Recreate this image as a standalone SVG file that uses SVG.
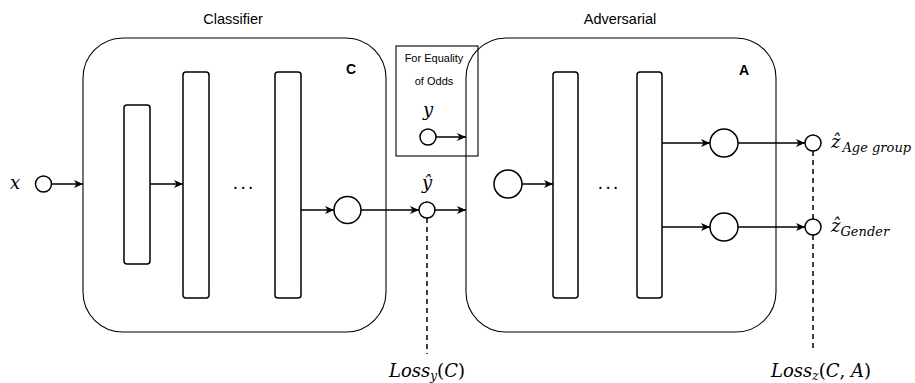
<svg xmlns="http://www.w3.org/2000/svg" width="915" height="383" viewBox="0 0 915 383">
<style>
.box{fill:#fff;stroke:#000;stroke-width:1.1}
.bar{fill:#fff;stroke:#000;stroke-width:1.5}
.nd{fill:#fff;stroke:#000;stroke-width:1.5}
.edge{fill:none;stroke:#000;stroke-width:1.5}
.dash{fill:none;stroke:#000;stroke-width:1.5;stroke-dasharray:5 4}
.title{font-family:"Liberation Sans",Arial,sans-serif;font-size:14.5px;fill:#000}
.small{font-family:"Liberation Sans",Arial,sans-serif;font-size:11px;fill:#000}
.bold{font-family:"Liberation Sans",Arial,sans-serif;font-size:14px;font-weight:bold;fill:#000}
.math{font-family:"DejaVu Serif","Liberation Serif",serif;font-style:italic;fill:#000}
.up{font-style:normal}
.dots{font-family:"DejaVu Sans",sans-serif;font-size:18px;fill:#000}
</style>
<defs>
<marker id="arr" markerUnits="userSpaceOnUse" markerWidth="10" markerHeight="8" refX="9" refY="4" orient="auto">
<path d="M0,0 L9,4 L0,8 L2.5,4 Z" fill="#000"/>
</marker>
</defs>

<text class="title" x="233" y="24" text-anchor="middle">Classifier</text>
<text class="title" x="620" y="24" text-anchor="middle">Adversarial</text>

<g id="classifier">
<rect class="box" x="83" y="38" width="303" height="294" rx="40" ry="40"/>
<text class="bold" x="351" y="74" text-anchor="middle">C</text>
</g>
<g id="adversarial">
<rect class="box" x="466" y="38" width="310" height="294" rx="40" ry="40"/>
<text class="bold" x="744" y="75" text-anchor="middle">A</text>
</g>
<g id="equality-odds">
<rect x="396" y="46" width="82" height="110" style="fill:none;stroke:#000;stroke-width:1.1"/>
<text class="small" x="434" y="62" text-anchor="middle">For Equality</text>
<text class="small" x="434" y="85" text-anchor="middle">of Odds</text>
<text class="math" x="428" y="116" font-size="18" text-anchor="middle">y</text>
</g>

<g id="c-bar1"><rect class="bar" x="124" y="105" width="26" height="159" rx="3"/></g>
<g id="c-bar2"><rect class="bar" x="183" y="72" width="26" height="226" rx="3"/></g>
<g id="c-dots"><text class="dots" x="244" y="189" text-anchor="middle" letter-spacing="2">...</text></g>
<g id="c-bar3"><rect class="bar" x="275" y="72" width="26" height="226" rx="3"/></g>
<g id="c-out"><circle class="nd" cx="347.5" cy="210" r="13.5"/></g>

<g id="a-in"><circle class="nd" cx="508" cy="184" r="14"/></g>
<g id="a-bar1"><rect class="bar" x="553" y="72" width="25" height="226" rx="3"/></g>
<g id="a-dots"><text class="dots" x="609" y="189" text-anchor="middle" letter-spacing="2">...</text></g>
<g id="a-bar2"><rect class="bar" x="637" y="72" width="25" height="226" rx="3"/></g>
<g id="a-out1"><circle class="nd" cx="724" cy="143" r="14"/></g>
<g id="a-out2"><circle class="nd" cx="724" cy="227" r="14"/></g>

<g id="connectors">
<path class="edge" d="M52,184 H83" marker-end="url(#arr)"/>
<path class="edge" d="M150,184 H183" marker-end="url(#arr)"/>
<path class="edge" d="M301,210 H334" marker-end="url(#arr)"/>
<path class="edge" d="M361,210 H419" marker-end="url(#arr)"/>
<path class="edge" d="M435,210 H466" marker-end="url(#arr)"/>
<path class="edge" d="M436,137 H466" marker-end="url(#arr)"/>
<path class="edge" d="M522,184 H553" marker-end="url(#arr)"/>
<path class="edge" d="M662,143 H710" marker-end="url(#arr)"/>
<path class="edge" d="M662,227 H710" marker-end="url(#arr)"/>
<path class="edge" d="M738,143 H805" marker-end="url(#arr)"/>
<path class="edge" d="M738,227 H805" marker-end="url(#arr)"/>
<path class="dash" d="M427,218 V354"/>
<path class="dash" d="M813,151 V219 M813,235 V352"/>
</g>

<g id="x-in">
<circle class="nd" cx="43.5" cy="184" r="8"/>
<text class="math" x="15" y="189" font-size="18" text-anchor="middle">x</text>
</g>
<g id="y-in"><circle class="nd" cx="428" cy="137" r="8"/></g>
<g id="y-hat">
<circle class="nd" cx="427" cy="210" r="8"/>
<text class="math" x="427" y="189" font-size="18" text-anchor="middle">ŷ</text>
</g>
<g id="z-age">
<circle class="nd" cx="813" cy="143" r="8"/>
<text class="math" x="831" y="148" font-size="18">ẑ<tspan font-size="13" dy="4" dx="2">Age group</tspan></text>
</g>
<g id="z-gender">
<circle class="nd" cx="813" cy="227" r="8"/>
<text class="math" x="831" y="232" font-size="18">ẑ<tspan font-size="13" dy="4">Gender</tspan></text>
</g>
<g id="loss-y">
<text class="math" x="427" y="377" font-size="18" text-anchor="middle">Loss<tspan font-size="12" dy="3">y</tspan><tspan dy="-3" class="up">(</tspan>C<tspan class="up">)</tspan></text>
</g>
<g id="loss-z">
<text class="math" x="821" y="377" font-size="18" text-anchor="middle">Loss<tspan font-size="12" dy="3">z</tspan><tspan dy="-3" class="up">(</tspan>C<tspan class="up">, </tspan>A<tspan class="up">)</tspan></text>
</g>
</svg>
